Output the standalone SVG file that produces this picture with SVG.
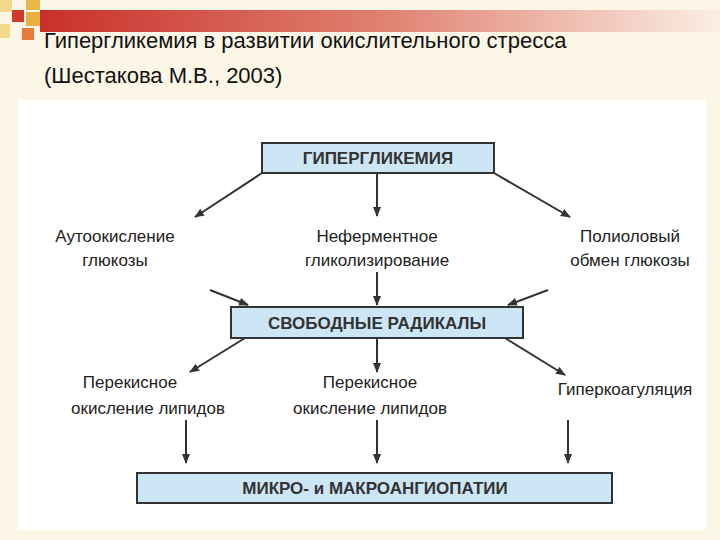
<svg xmlns="http://www.w3.org/2000/svg" width="720" height="540" viewBox="0 0 720 540">
<defs>
<linearGradient id="bar" x1="0" x2="1"><stop offset="0" stop-color="#c8302a"/><stop offset="0.5" stop-color="#e08070"/><stop offset="1" stop-color="#fbeee4"/></linearGradient>
<marker id="ah" markerWidth="10" markerHeight="8" refX="9" refY="4" orient="auto" markerUnits="userSpaceOnUse"><path d="M0,0 L10,4 L0,8 Z" fill="#333"/></marker>
<style>
.box{fill:#cde6f5;stroke:#333;stroke-width:2}
.bt{font-family:"Liberation Sans Narrow","Liberation Sans",sans-serif;font-size:17px;font-weight:bold;fill:#333;text-anchor:middle}
.t{font-family:"Liberation Sans Narrow","Liberation Sans",sans-serif;font-size:17px;fill:#222;text-anchor:middle}
#conn line{stroke:#333;stroke-width:2;marker-end:url(#ah)}
</style>
</defs>
<rect width="720" height="540" fill="#fbf6e6"/>
<rect x="40" y="10" width="680" height="22" fill="url(#bar)"/>
<rect x="0" y="0" width="12" height="12" fill="#f2d98a"/>
<rect x="26" y="0" width="14" height="10" fill="#e8b84a"/>
<rect x="12" y="10" width="12" height="12" fill="#d23a2a"/>
<rect x="26" y="12" width="14" height="14" fill="#e8b040"/>
<rect x="0" y="24" width="10" height="14" fill="#f2d98a"/>
<rect x="22" y="28" width="12" height="12" fill="#e87a3a"/>
<text x="44" y="48" font-family="Liberation Sans,sans-serif" font-size="22" fill="#111">Гипергликемия в развитии окислительного стресса</text>
<text x="44" y="83" font-family="Liberation Sans,sans-serif" font-size="22" fill="#111">(Шестакова М.В., 2003)</text>
<rect x="18" y="100" width="688" height="430" fill="#fff"/>
<g id="conn">
<line x1="262" y1="173" x2="195" y2="217"/>
<line x1="377" y1="173" x2="377" y2="216"/>
<line x1="494" y1="173" x2="570" y2="217"/>
<line x1="210" y1="290" x2="248" y2="305"/>
<line x1="377" y1="272" x2="377" y2="305"/>
<line x1="548" y1="290" x2="508" y2="305"/>
<line x1="245" y1="338" x2="190" y2="372"/>
<line x1="377" y1="338" x2="377" y2="372"/>
<line x1="505" y1="338" x2="565" y2="375"/>
<line x1="186" y1="420" x2="186" y2="463"/>
<line x1="377" y1="420" x2="377" y2="463"/>
<line x1="568" y1="420" x2="568" y2="463"/>
</g>
<g id="hyper"><rect class="box" x="262" y="143" width="232" height="30"/><text class="bt" x="378" y="164">ГИПЕРГЛИКЕМИЯ</text></g>
<g id="auto"><text class="t" x="115" y="242">Аутоокисление</text><text class="t" x="115" y="266">глюкозы</text></g>
<g id="nef"><text class="t" x="377" y="242">Неферментное</text><text class="t" x="377" y="266">гликолизирование</text></g>
<g id="poli"><text class="t" x="630" y="242">Полиоловый</text><text class="t" x="630" y="266">обмен глюкозы</text></g>
<g id="rad"><rect class="box" x="231" y="307" width="292" height="31"/><text class="bt" x="377" y="329">СВОБОДНЫЕ РАДИКАЛЫ</text></g>
<g id="per1"><text class="t" x="130" y="388">Перекисное</text><text class="t" x="148" y="414">окисление липидов</text></g>
<g id="per2"><text class="t" x="370" y="388">Перекисное</text><text class="t" x="370" y="414">окисление липидов</text></g>
<g id="giper"><text class="t" x="625" y="395">Гиперкоагуляция</text></g>
<g id="angio"><rect class="box" x="137" y="473" width="475" height="30"/><text class="bt" x="375" y="494">МИКРО- и МАКРОАНГИОПАТИИ</text></g>
</svg>
